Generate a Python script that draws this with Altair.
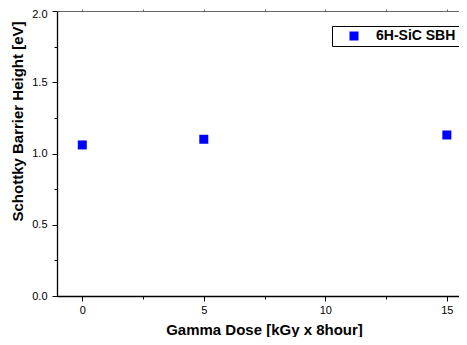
import altair as alt
import pandas as pd

# Data
dose = [0, 5, 15]
sbh = [1.06, 1.10, 1.13]
series = ["6H-SiC SBH", "6H-SiC SBH", "6H-SiC SBH"]

x_major = [0, 5, 10, 15]
x_minor = [2.5, 7.5, 12.5]
x_top = [0, 2.5, 5, 7.5, 10, 12.5, 15]
y_major = [0.0, 0.5, 1.0, 1.5]
y_top_label = [2.0]
y_minor = [0.25, 0.75, 1.25, 1.75]

df = pd.DataFrame({"dose": dose, "sbh": sbh, "series": series})

FONT = "Liberation Sans"
xscale = alt.Scale(domain=[-1.04, 15.5], nice=False, zero=False)
yscale = alt.Scale(domain=[0, 2.0], nice=False, zero=False)

base = alt.Chart(df)

main = base.mark_square(size=81, opacity=1, filled=True).encode(
    x=alt.X("dose:Q", scale=xscale, axis=alt.Axis(
        orient="bottom", values=x_major, format="d", tickSize=5, tickColor="#000",
        labelPadding=3, labelFontSize=11, labelColor="#000", labelFont=FONT,
        domainColor="#000", domainWidth=1.3, grid=False,
        title="Gamma Dose [kGy x 8hour]", titleFont=FONT, titleFontSize=15,
        titleFontWeight="bold", titleColor="#000", titleX=207, titleY=38,
        titleBaseline="alphabetic")),
    y=alt.Y("sbh:Q", scale=yscale, axis=alt.Axis(
        orient="left", values=y_major, format=".1f", tickSize=5, tickColor="#000",
        labelPadding=5, labelFontSize=11, labelColor="#000", labelFont=FONT,
        domainColor="#000", domainWidth=1.3, grid=False,
        title="Schottky Barrier Height [eV]", titleFont=FONT, titleFontSize=15,
        titleFontWeight="bold", titleColor="#000", titleX=-35, titleY=110,
        titleAngle=270, titleBaseline="alphabetic")),
    color=alt.Color("series:N", scale=alt.Scale(domain=["6H-SiC SBH"], range=["#0000FF"]),
                    legend=alt.Legend(
                        title=None, orient="none", legendX=275, legendY=15,
                        padding=3, strokeColor="#000", fillColor="#fff",
                        symbolType="square", symbolSize=81, symbolOffset=12,
                        symbolStrokeWidth=0, labelOffset=15, labelFont=FONT,
                        labelFontSize=14, labelFontWeight="bold", labelColor="#000",
                        cornerRadius=0)),
)

minor = base.mark_point(opacity=0).encode(
    x=alt.X("dose:Q", scale=xscale, axis=alt.Axis(
        orient="bottom", values=x_minor, tickSize=3, tickColor="#000",
        labels=False, domain=False, grid=False, title=None)),
    y=alt.Y("sbh:Q", scale=yscale, axis=alt.Axis(
        orient="left", values=y_minor, tickSize=3, tickColor="#000",
        labels=False, domain=False, grid=False, title=None)),
)

frame = base.mark_point(opacity=0).encode(
    x=alt.X("dose:Q", scale=xscale, axis=alt.Axis(
        orient="top", values=x_top, tickSize=2, tickColor="#666",
        labels=False, domainColor="#666", domainWidth=1, grid=False, title=None)),
    y=alt.Y("sbh:Q", scale=yscale, axis=alt.Axis(
        orient="left", values=y_top_label, format=".1f", tickSize=5, tickColor="#000",
        labelPadding=5, labelFontSize=11, labelColor="#000", labelFont=FONT,
        labelOffset=3, domain=False, grid=False, title=None)),
)

chart = alt.layer(main, minor, frame).resolve_axis(
    x="independent", y="independent"
).properties(
    width=402, height=285,
    autosize=alt.AutoSizeParams(type="none"),
    padding={"left": 49, "top": 3, "right": 0, "bottom": 41},
).configure_view(strokeWidth=0)

chart.save("out.html", embed_options={"renderer": "svg", "actions": False})
